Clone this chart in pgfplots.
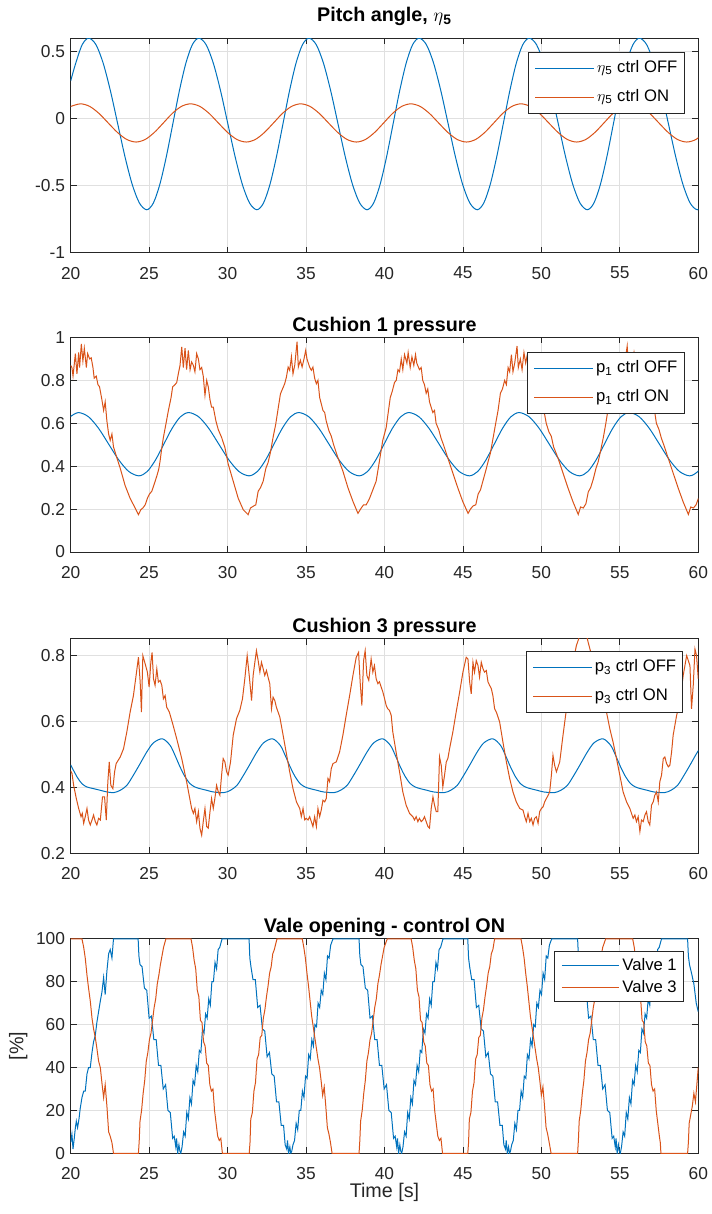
\documentclass[border=0pt]{standalone}
\usepackage{fontspec}
\setmainfont{Liberation Sans}
\usepackage{pgfplots}
\pgfplotsset{compat=1.18}
\definecolor{mblue}{rgb}{0,0.447,0.741}
\definecolor{morange}{rgb}{0.85,0.325,0.098}
\definecolor{axc}{rgb}{0.15,0.15,0.15}
\definecolor{gridc}{rgb}{0.88,0.88,0.88}
\pgfplotsset{
  mat/.style={
    scale only axis, width=470.7pt, height=160.9pt, anchor=south west,
    xmin=20, xmax=60, xtick={20,25,30,35,40,45,50,55,60},
    grid=major, major grid style={draw=gridc, line width=0.5pt},
    axis line style={draw=axc, line width=0.6pt},
    every tick/.style={draw=axc, line width=0.6pt},
    major tick length=4.5pt, tick align=inside,
    tick label style={font=\fontsize{13}{15}\selectfont, text=axc},
    /pgf/number format/assume math mode=true,
    xticklabel style={inner sep=0pt, anchor=north, yshift=-10.5pt},
    yticklabel style={xshift=-0.7pt},
    title style={font=\fontsize{14.8}{17}\selectfont\bfseries, at={(0.5,1)}, anchor=base},
    legend cell align=left,
    legend image code/.code={\draw[#1] (0pt,0pt) -- (44pt,0pt);},
    every axis plot/.append style={line width=0.75pt},
    legend style={at={(0.978,0.935)}, anchor=north east, draw=axc, line width=0.6pt, fill=white,
      font=\fontsize{12.5}{14}\selectfont, text=black, inner xsep=5pt, inner ysep=5.5pt,
      row sep=8.75pt, column sep=2pt, nodes={inner sep=0pt, text height=9.5pt, text depth=3.5pt}},
  }
}
\begin{document}
\begin{tikzpicture}
\useasboundingbox (0,0) rectangle (534pt,910.5pt);
% ---------------- Axis 1
\begin{axis}[mat, at={(53pt,721pt)}, ymin=-1, ymax=0.6, ytick={-1,-0.5,0,0.5},
  title={Pitch angle, $\eta$\textsubscript{5}}, title style={yshift=6.75pt}]
\addplot[draw=mblue, smooth] coordinates {
(20,0.28)(20.32,0.412)(20.735,0.551)(21.15,0.60)
(21.6125,0.551)(22.075,0.412)(22.5375,0.205)(23.0,-0.04)(23.4625,-0.285)(23.925,-0.492)(24.3875,-0.631)(24.85,-0.68)
(25.265,-0.631)(25.68,-0.492)(26.095,-0.285)(26.51,-0.04)(26.925,0.205)(27.34,0.412)(27.755,0.551)(28.17,0.60)
(28.6325,0.551)(29.095,0.412)(29.5575,0.205)(30.02,-0.04)(30.4825,-0.285)(30.945,-0.492)(31.4075,-0.631)(31.87,-0.68)
(32.285,-0.631)(32.70,-0.492)(33.115,-0.285)(33.53,-0.04)(33.945,0.205)(34.36,0.412)(34.775,0.551)(35.19,0.60)
(35.6525,0.551)(36.115,0.412)(36.5775,0.205)(37.04,-0.04)(37.5025,-0.285)(37.965,-0.492)(38.4275,-0.631)(38.89,-0.68)
(39.305,-0.631)(39.72,-0.492)(40.135,-0.285)(40.55,-0.04)(40.965,0.205)(41.38,0.412)(41.795,0.551)(42.21,0.60)
(42.6725,0.551)(43.135,0.412)(43.5975,0.205)(44.06,-0.04)(44.5225,-0.285)(44.985,-0.492)(45.4475,-0.631)(45.91,-0.68)
(46.325,-0.631)(46.74,-0.492)(47.155,-0.285)(47.57,-0.04)(47.985,0.205)(48.40,0.412)(48.815,0.551)(49.23,0.60)
(49.6925,0.551)(50.155,0.412)(50.6175,0.205)(51.08,-0.04)(51.5425,-0.285)(52.005,-0.492)(52.4675,-0.631)(52.93,-0.68)
(53.345,-0.631)(53.76,-0.492)(54.175,-0.285)(54.59,-0.04)(55.005,0.205)(55.42,0.412)(55.835,0.551)(56.25,0.60)
(56.7125,0.551)(57.175,0.412)(57.6375,0.205)(58.10,-0.04)(58.5625,-0.285)(59.025,-0.492)(59.4875,-0.631)(59.95,-0.68)(60.365,-0.631)
};
\addlegendentry{$\eta$\textsubscript{5} ctrl OFF}
\addplot[draw=morange, smooth] coordinates {
(20,0.09)(20.62,0.11)(21.21,0.091)(21.80,0.039)(22.395,-0.033)(22.987,-0.104)(23.578,-0.156)(24.17,-0.175)(24.748,-0.156)(25.327,-0.104)(25.905,-0.033)(26.483,0.039)(27.062,0.091)(27.64,0.11)
(28.23,0.091)(28.82,0.039)(29.415,-0.033)(30.007,-0.104)(30.598,-0.156)(31.19,-0.175)(31.768,-0.156)(32.347,-0.104)(32.925,-0.033)(33.503,0.039)(34.082,0.091)(34.66,0.11)
(35.25,0.091)(35.84,0.039)(36.435,-0.033)(37.027,-0.104)(37.618,-0.156)(38.21,-0.175)(38.788,-0.156)(39.367,-0.104)(39.945,-0.033)(40.523,0.039)(41.102,0.091)(41.68,0.11)
(42.27,0.091)(42.86,0.039)(43.455,-0.033)(44.047,-0.104)(44.638,-0.156)(45.23,-0.175)(45.808,-0.156)(46.387,-0.104)(46.965,-0.033)(47.543,0.039)(48.122,0.091)(48.70,0.11)
(49.29,0.091)(49.88,0.039)(50.475,-0.033)(51.067,-0.104)(51.658,-0.156)(52.25,-0.175)(52.828,-0.156)(53.407,-0.104)(53.985,-0.033)(54.563,0.039)(55.142,0.091)(55.72,0.11)
(56.31,0.091)(56.90,0.039)(57.495,-0.033)(58.087,-0.104)(58.678,-0.156)(59.27,-0.175)(59.848,-0.156)(60.427,-0.104)
};
\addlegendentry{$\eta$\textsubscript{5} ctrl ON}
\end{axis}
% ---------------- Axis 2
\begin{axis}[mat, at={(53pt,496.5pt)}, ymin=0, ymax=1, ytick={0,0.2,0.4,0.6,0.8,1},
  title={Cushion 1 pressure}, title style={yshift=-1.5pt}, legend style={at={(0.978,0.93)}}]
\addplot[draw=mblue, smooth] coordinates {
(20,0.632)(20.5,0.65)(21.142,0.630)(21.783,0.576)(22.425,0.5025)(23.067,0.429)(23.708,0.375)(24.35,0.355)(24.878,0.375)(25.407,0.429)(25.935,0.5025)(26.463,0.576)(26.992,0.630)(27.52,0.65)
(28.162,0.630)(28.803,0.576)(29.445,0.5025)(30.087,0.429)(30.728,0.375)(31.37,0.355)(31.898,0.375)(32.427,0.429)(32.955,0.5025)(33.483,0.576)(34.012,0.630)(34.54,0.65)
(35.182,0.630)(35.823,0.576)(36.465,0.5025)(37.107,0.429)(37.748,0.375)(38.39,0.355)(38.918,0.375)(39.447,0.429)(39.975,0.5025)(40.503,0.576)(41.032,0.630)(41.56,0.65)
(42.202,0.630)(42.843,0.576)(43.485,0.5025)(44.127,0.429)(44.768,0.375)(45.41,0.355)(45.938,0.375)(46.467,0.429)(46.995,0.5025)(47.523,0.576)(48.052,0.630)(48.58,0.65)
(49.222,0.630)(49.863,0.576)(50.505,0.5025)(51.147,0.429)(51.788,0.375)(52.43,0.355)(52.958,0.375)(53.487,0.429)(54.015,0.5025)(54.543,0.576)(55.072,0.630)(55.60,0.65)
(56.242,0.630)(56.883,0.576)(57.525,0.5025)(58.167,0.429)(58.808,0.375)(59.45,0.355)(59.978,0.375)(60.507,0.429)
};
\addlegendentry{p\textsubscript{1} ctrl OFF}
\addplot[draw=morange] coordinates {
(20.0,0.87)(20.08,0.86)(20.15,0.82)(20.30,0.925)(20.40,0.83)(20.51,0.93)(20.57,0.86)(20.68,0.97)(20.78,0.89)(20.87,0.95)(21.00,0.86)(21.08,0.925)(21.21,0.90)(21.31,0.905)(21.42,0.86)(21.50,0.81)(21.63,0.82)(21.74,0.78)(21.84,0.77)(21.99,0.71)(22.10,0.66)(22.20,0.70)(22.31,0.61)(22.42,0.55)(22.52,0.52)(22.63,0.55)(22.73,0.49)(22.94,0.44)(23.16,0.39)(23.47,0.31)(23.79,0.25)(24.11,0.205)(24.32,0.174)(24.47,0.197)(24.60,0.205)(24.75,0.22)(24.89,0.25)(25.02,0.27)(25.17,0.283)(25.32,0.315)(25.49,0.354)(25.61,0.385)(25.70,0.424)(25.81,0.487)(25.91,0.534)(26.08,0.60)(26.23,0.66)(26.40,0.72)(26.50,0.77)(26.65,0.78)(26.76,0.79)(26.86,0.83)(26.97,0.87)(27.08,0.956)(27.18,0.86)(27.29,0.95)(27.39,0.85)(27.50,0.94)(27.61,0.85)(27.71,0.886)(27.82,0.87)(27.92,0.84)(28.03,0.925)(28.14,0.90)(28.24,0.85)(28.35,0.86)(28.45,0.82)(28.56,0.73)(28.67,0.80)(28.77,0.77)(28.88,0.71)(28.98,0.675)(29.09,0.675)(29.26,0.61)(29.41,0.57)(29.62,0.534)(29.83,0.487)(30.04,0.41)(30.36,0.33)(30.68,0.25)(31.00,0.197)(31.31,0.174)
(31.46,0.205)(31.63,0.213)(31.80,0.22)(31.95,0.283)(32.10,0.30)(32.27,0.33)(32.44,0.39)(32.58,0.416)(32.73,0.463)(32.90,0.534)(33.07,0.596)(33.22,0.667)(33.37,0.737)(33.50,0.76)(33.64,0.784)(33.75,0.815)(33.86,0.862)(33.96,0.847)(34.07,0.91)(34.17,0.83)(34.28,0.87)(34.43,0.98)(34.51,0.862)(34.64,0.894)(34.75,0.862)(34.87,0.90)(34.98,0.94)(35.06,0.90)(35.23,0.862)(35.34,0.847)(35.44,0.862)(35.55,0.81)(35.66,0.784)(35.76,0.80)(35.87,0.72)(36.08,0.66)(36.19,0.65)(36.29,0.61)(36.46,0.565)(36.61,0.54)(36.76,0.50)(37.03,0.44)(37.35,0.377)(37.67,0.30)(37.99,0.236)
(38.31,0.18)(38.52,0.205)(38.67,0.22)(38.84,0.22)(39.05,0.25)(39.26,0.29)(39.47,0.33)(39.68,0.424)(39.89,0.52)(40.11,0.58)(40.22,0.64)(40.37,0.72)(40.50,0.75)(40.64,0.79)(40.75,0.80)(40.86,0.85)(40.96,0.84)(41.07,0.90)(41.17,0.85)(41.28,0.92)(41.43,0.88)(41.51,0.93)(41.64,0.86)(41.75,0.91)(41.87,0.87)(41.98,0.92)(42.06,0.88)(42.23,0.85)(42.34,0.86)(42.44,0.80)(42.55,0.78)(42.66,0.74)(42.76,0.76)(42.87,0.70)(43.08,0.65)(43.19,0.66)(43.29,0.60)(43.46,0.57)(43.61,0.53)(43.76,0.50)(44.03,0.44)(44.35,0.37)(44.67,0.30)(44.99,0.235)
(45.33,0.18)(45.48,0.20)(45.65,0.215)(45.82,0.22)(45.97,0.27)(46.12,0.29)(46.29,0.335)(46.46,0.38)(46.60,0.42)(46.75,0.46)(46.92,0.53)(47.09,0.60)(47.24,0.66)(47.39,0.74)(47.52,0.76)(47.66,0.80)(47.77,0.78)(47.88,0.86)(47.98,0.84)(48.09,0.92)(48.19,0.84)(48.30,0.88)(48.45,0.96)(48.53,0.86)(48.66,0.90)(48.77,0.85)(48.89,0.93)(49.00,0.88)(49.08,0.91)(49.25,0.84)(49.36,0.85)(49.46,0.80)(49.57,0.82)(49.68,0.76)(49.78,0.78)(49.89,0.71)(50.10,0.66)(50.21,0.64)(50.31,0.60)(50.48,0.56)(50.63,0.54)(50.78,0.49)(51.05,0.44)(51.37,0.37)(51.69,0.30)(52.01,0.235)
(52.35,0.175)(52.50,0.21)(52.67,0.205)(52.84,0.225)(52.99,0.28)(53.14,0.30)(53.31,0.34)(53.48,0.39)(53.62,0.42)(53.77,0.47)(53.94,0.53)(54.11,0.60)(54.26,0.67)(54.41,0.73)(54.54,0.77)(54.68,0.78)(54.79,0.82)(54.90,0.87)(55.00,0.84)(55.11,0.90)(55.21,0.84)(55.32,0.88)(55.47,0.96)(55.55,0.87)(55.68,0.90)(55.79,0.86)(55.91,0.93)(56.02,0.89)(56.10,0.90)(56.27,0.86)(56.38,0.84)(56.48,0.85)(56.59,0.80)(56.70,0.78)(56.80,0.79)(56.91,0.72)(57.12,0.66)(57.23,0.65)(57.33,0.60)(57.50,0.57)(57.65,0.53)(57.80,0.50)(58.07,0.44)(58.39,0.37)(58.71,0.30)(59.03,0.235)
(59.37,0.175)(59.52,0.21)(59.69,0.205)(59.86,0.22)(60.01,0.25)
};
\addlegendentry{p\textsubscript{1} ctrl ON}
\end{axis}
% ---------------- Axis 3
\begin{axis}[mat, at={(53pt,270.5pt)}, ymin=0.2, ymax=0.85, ytick={0.2,0.4,0.6,0.8},
  title={Cushion 3 pressure}, title style={yshift=-1.5pt}, legend style={at={(0.976,0.942)}}]
\addplot[draw=mblue, smooth] coordinates {
(20,0.468)(20.40,0.432)(20.72,0.411)(21.04,0.401)(21.46,0.396)(21.89,0.391)(22.31,0.386)(22.75,0.384)
(23.16,0.391)(23.58,0.406)(24.0,0.437)(24.43,0.472)(24.85,0.507)(25.28,0.535)(25.85,0.547)(26.34,0.527)(26.65,0.497)(26.97,0.462)(27.29,0.432)(27.61,0.411)(27.92,0.401)(28.24,0.396)(28.67,0.391)(29.09,0.386)(29.77,0.384)
(30.18,0.391)(30.60,0.406)(31.02,0.437)(31.45,0.472)(31.87,0.507)(32.30,0.535)(32.87,0.547)(33.36,0.527)(33.67,0.497)(33.99,0.462)(34.31,0.432)(34.63,0.411)(34.94,0.401)(35.26,0.396)(35.69,0.391)(36.11,0.386)(36.79,0.384)
(37.20,0.391)(37.62,0.406)(38.04,0.437)(38.47,0.472)(38.89,0.507)(39.32,0.535)(39.89,0.547)(40.38,0.527)(40.69,0.497)(41.01,0.462)(41.33,0.432)(41.65,0.411)(41.96,0.401)(42.28,0.396)(42.71,0.391)(43.13,0.386)(43.81,0.384)
(44.22,0.391)(44.64,0.406)(45.06,0.437)(45.49,0.472)(45.91,0.507)(46.34,0.535)(46.91,0.547)(47.40,0.527)(47.71,0.497)(48.03,0.462)(48.35,0.432)(48.67,0.411)(48.98,0.401)(49.30,0.396)(49.73,0.391)(50.15,0.386)(50.83,0.384)
(51.24,0.391)(51.66,0.406)(52.08,0.437)(52.51,0.472)(52.93,0.507)(53.36,0.535)(53.93,0.547)(54.42,0.527)(54.73,0.497)(55.05,0.462)(55.37,0.432)(55.69,0.411)(56.00,0.401)(56.32,0.396)(56.75,0.391)(57.17,0.386)(57.85,0.384)
(58.26,0.391)(58.68,0.406)(59.10,0.437)(59.53,0.472)(59.95,0.507)(60.38,0.535)
};
\addlegendentry{p\textsubscript{3} ctrl OFF}
\addplot[draw=morange] coordinates {
(20.0,0.45)(20.085,0.442)(20.19,0.406)(20.36,0.366)(20.51,0.336)(20.66,0.311)(20.74,0.321)(20.83,0.291)(20.93,0.311)(21.04,0.336)(21.14,0.301)(21.25,0.286)(21.36,0.301)(21.46,0.316)(21.57,0.296)(21.67,0.286)(21.78,0.306)(21.89,0.301)(22.03,0.371)(22.16,0.371)(22.27,0.301)(22.37,0.417)(22.46,0.477)(22.56,0.406)(22.69,0.396)(22.80,0.447)(22.90,0.472)(23.16,0.492)(23.37,0.517)(23.58,0.568)(23.79,0.628)(24.00,0.678)(24.17,0.739)(24.32,0.794)(24.43,0.719)(24.51,0.628)(24.60,0.799)(24.75,0.774)(24.89,0.749)(25.0,0.704)(25.11,0.779)(25.19,0.809)(25.28,0.729)(25.38,0.709)(25.49,0.759)(25.59,0.719)(25.70,0.724)(25.81,0.709)(25.91,0.668)(26.02,0.678)(26.12,0.643)(26.29,0.628)(26.50,0.593)(26.76,0.547)(27.08,0.487)(27.39,0.417)(27.71,0.336)(27.82,0.321)(27.92,0.336)(28.03,0.296)(28.14,0.326)(28.24,0.276)(28.35,0.255)(28.45,0.296)(28.56,0.336)(28.67,0.281)(28.77,0.276)(28.88,0.326)(28.98,0.366)(29.09,0.336)(29.19,0.366)(29.30,0.406)(29.41,0.386)(29.51,0.376)(29.62,0.437)(29.72,0.487)(29.83,0.477)(29.94,0.447)(30.04,0.437)(30.19,0.477)(30.36,0.558)(30.57,0.608)(30.78,0.633)(30.95,0.668)(31.10,0.729)(31.25,0.799)(31.38,0.739)(31.53,0.663)(31.63,0.739)(31.74,0.779)(31.84,0.814)(31.95,0.784)(32.06,0.749)(32.16,0.779)(32.27,0.759)(32.37,0.739)(32.48,0.754)(32.58,0.734)(32.69,0.714)(32.80,0.638)(32.90,0.673)(33.01,0.663)(33.11,0.643)(33.33,0.613)(33.54,0.558)(33.75,0.502)(33.96,0.447)(34.17,0.396)(34.39,0.356)(34.60,0.336)(34.70,0.311)(34.81,0.336)(34.92,0.301)(35.02,0.306)(35.13,0.301)(35.23,0.311)(35.34,0.296)(35.44,0.281)(35.55,0.311)(35.66,0.281)(35.76,0.336)(35.87,0.311)(35.97,0.331)(36.08,0.361)(36.19,0.356)(36.29,0.366)(36.40,0.427)(36.50,0.417)(36.61,0.457)(36.72,0.472)(36.93,0.477)(37.14,0.507)(37.35,0.558)(37.56,0.618)(37.78,0.678)(37.99,0.739)(38.20,0.794)(38.35,0.809)(38.45,0.719)(38.56,0.648)(38.67,0.784)(38.77,0.814)(38.88,0.739)(39.0,0.724)(39.15,0.789)(39.26,0.749)(39.36,0.769)(39.47,0.729)(39.58,0.714)(39.68,0.72)(39.79,0.704)(39.89,0.69)(40.0,0.67)(40.11,0.648)(40.21,0.638)(40.32,0.633)(40.43,0.618)(40.53,0.568)(40.74,0.507)(40.96,0.447)(41.17,0.386)(41.38,0.346)(41.60,0.321)(41.81,0.311)(41.91,0.301)(42.02,0.311)(42.13,0.296)(42.23,0.306)(42.34,0.296)(42.45,0.301)(42.55,0.311)(42.66,0.296)(42.77,0.281)(42.87,0.276)(42.98,0.336)(43.09,0.371)(43.19,0.346)(43.30,0.326)(43.40,0.326)(43.51,0.492)(43.62,0.466)(43.72,0.401)(43.83,0.437)(43.94,0.477)(44.04,0.487)(44.15,0.517)(44.36,0.568)(44.57,0.628)(44.79,0.688)(45.0,0.749)(45.21,0.794)(45.32,0.789)(45.43,0.719)(45.53,0.683)(45.64,0.779)(45.74,0.749)(45.85,0.784)(45.96,0.769)(46.06,0.734)(46.17,0.779)(46.28,0.759)(46.38,0.749)(46.49,0.754)(46.60,0.719)(46.70,0.709)(46.81,0.699)(46.91,0.678)(47.02,0.638)(47.13,0.628)(47.34,0.598)(47.55,0.537)(47.77,0.477)(47.98,0.427)(48.19,0.386)(48.40,0.356)(48.62,0.336)(48.83,0.331)(48.94,0.311)(49.04,0.296)(49.15,0.321)(49.26,0.296)(49.36,0.306)(49.47,0.286)(49.57,0.306)(49.68,0.311)(49.79,0.291)(49.89,0.326)(50.0,0.336)(50.11,0.341)(50.21,0.356)(50.32,0.366)(50.43,0.376)(50.53,0.386)(50.64,0.437)(50.74,0.497)(50.85,0.466)(50.96,0.447)(51.17,0.477)(51.38,0.558)(51.60,0.638)(51.81,0.719)(52.02,0.779)(52.23,0.829)(52.45,0.86)(52.66,0.855)(52.83,0.87)(52.98,0.84)(53.2,0.80)(53.45,0.76)(53.7,0.72)(53.95,0.67)(54.15,0.628)(54.36,0.578)(54.57,0.537)(54.79,0.487)(55.0,0.437)(55.21,0.386)(55.43,0.356)(55.64,0.336)(55.85,0.306)(55.96,0.316)(56.06,0.296)(56.17,0.311)(56.28,0.266)(56.38,0.301)(56.49,0.296)(56.60,0.316)(56.70,0.326)(56.81,0.296)(56.91,0.286)(57.02,0.346)(57.13,0.356)(57.23,0.376)(57.34,0.386)(57.45,0.356)(57.55,0.417)(57.66,0.437)(57.77,0.487)(57.87,0.492)(57.98,0.472)(58.09,0.462)(58.19,0.467)(58.30,0.507)(58.40,0.558)(58.62,0.618)(58.83,0.658)(59.04,0.739)(59.26,0.799)(59.47,0.769)(59.57,0.638)(59.68,0.709)(59.79,0.819)(59.89,0.799)(60.0,0.729)
};
\addlegendentry{p\textsubscript{3} ctrl ON}
\end{axis}
% ---------------- Axis 4
\begin{axis}[mat, at={(53pt,45.5pt)}, ymin=0, ymax=100, ytick={0,20,40,60,80,100},
  title={Vale opening - control ON}, title style={yshift=-1.3pt},
  xlabel={Time [s]}, ylabel={[\%]},
  every axis x label/.style={at={(axis description cs:0.5,0)}, anchor=base, inner sep=0pt, yshift=-33pt, font=\fontsize{14.8}{17}\selectfont, text=axc},
  every axis y label/.style={at={(axis description cs:-0.0835,0.5)}, rotate=90, anchor=center, inner sep=0pt, font=\fontsize{14.8}{17}\selectfont, text=axc},
  legend style={at={(0.977,0.941)}, inner ysep=4.5pt, row sep=4.5pt, nodes={inner sep=0pt, text height=9.5pt, text depth=2.5pt}},
  legend image code/.code={\draw[#1] (0pt,0pt) -- (43pt,0pt);}]
\addplot[draw=mblue] coordinates {
(20.0,5)(20.08,9)(20.15,2)(20.23,7)(20.30,12)(20.36,15)(20.44,12)(20.53,16)(20.61,21)(20.72,26)(20.83,29)(20.93,29)(21.04,37)(21.14,40)(21.25,40)(21.36,47)(21.46,52)(21.57,55)(21.67,61)(21.78,66)(21.89,71)(21.99,75)(22.10,82)(22.20,74)(22.31,85)(22.42,93)(22.52,95)(22.63,91)(22.73,100)
(24.30,100)(24.35,92)(24.42,88)(24.55,87)(24.70,77)(24.85,76)(25.00,63)(25.15,64)(25.30,53)(25.45,53)(25.60,41)(25.75,41)(25.90,30)(26.05,32)(26.20,20)(26.35,19)(26.50,7)(26.60,8)(26.70,3)(26.75,7)(26.82,0)(26.90,4)(26.96,1)(27.02,0)(27.10,3)(27.20,10)(27.30,8)(27.40,19)(27.50,16)(27.60,26)(27.70,23)(27.80,34)(27.90,32)(28.00,41)(28.10,38)(28.20,48)(28.30,47)(28.40,58)(28.50,56)(28.60,65)(28.70,63)(28.80,72)(28.90,69)(29.00,80)(29.10,80)(29.20,89)(29.30,86)(29.40,95)(29.50,96)(29.65,100)
(31.37,100)(31.42,91)(31.49,87)(31.62,81)(31.77,81)(31.92,68)(32.07,69)(32.22,58)(32.37,57)(32.52,45)(32.67,47)(32.82,37)(32.97,36)(33.12,24)(33.27,24)(33.42,13)(33.57,13)(33.67,4)(33.77,2)(33.82,6)(33.89,0)(33.97,3)(34.03,0)(34.09,1)(34.17,4)(34.27,6)(34.37,14)(34.47,11)(34.57,20)(34.67,20)(34.77,29)(34.87,26)(34.97,36)(35.07,35)(35.17,46)(35.27,44)(35.37,53)(35.47,50)(35.57,60)(35.67,59)(35.77,70)(35.87,68)(35.97,76)(36.07,74)(36.17,84)(36.27,81)(36.37,92)(36.47,91)(36.57,97)(36.72,100)
(38.38,100)(38.43,92)(38.50,88)(38.63,87)(38.78,77)(38.93,76)(39.08,63)(39.23,64)(39.38,53)(39.53,53)(39.68,41)(39.83,41)(39.98,30)(40.13,32)(40.28,20)(40.43,19)(40.58,7)(40.68,8)(40.78,3)(40.83,7)(40.90,0)(40.98,4)(41.04,1)(41.10,0)(41.18,3)(41.28,10)(41.38,8)(41.48,19)(41.58,16)(41.68,26)(41.78,23)(41.88,34)(41.98,32)(42.08,41)(42.18,38)(42.28,48)(42.38,47)(42.48,58)(42.58,56)(42.68,65)(42.78,63)(42.88,72)(42.98,69)(43.08,80)(43.18,80)(43.28,89)(43.38,86)(43.48,95)(43.58,96)(43.73,100)
(45.31,100)(45.36,91)(45.43,87)(45.56,81)(45.71,81)(45.86,68)(46.01,69)(46.16,58)(46.31,57)(46.46,45)(46.61,47)(46.76,37)(46.91,36)(47.06,24)(47.21,24)(47.36,13)(47.51,13)(47.61,4)(47.71,2)(47.76,6)(47.83,0)(47.91,3)(47.97,0)(48.03,1)(48.11,4)(48.21,6)(48.31,14)(48.41,11)(48.51,20)(48.61,20)(48.71,29)(48.81,26)(48.91,36)(49.01,35)(49.11,46)(49.21,44)(49.31,53)(49.41,50)(49.51,60)(49.61,59)(49.71,70)(49.81,68)(49.91,76)(50.01,74)(50.11,84)(50.21,81)(50.31,92)(50.41,91)(50.51,97)(50.66,100)
(52.31,100)(52.36,92)(52.43,88)(52.56,87)(52.71,77)(52.86,76)(53.01,63)(53.16,64)(53.31,53)(53.46,53)(53.61,41)(53.76,41)(53.91,30)(54.06,32)(54.21,20)(54.36,19)(54.51,7)(54.61,8)(54.71,3)(54.76,7)(54.83,0)(54.91,4)(54.97,1)(55.03,0)(55.11,3)(55.21,10)(55.31,8)(55.41,19)(55.51,16)(55.61,26)(55.71,23)(55.81,34)(55.91,32)(56.01,41)(56.11,38)(56.21,48)(56.31,47)(56.41,58)(56.51,56)(56.61,65)(56.71,63)(56.81,72)(56.91,69)(57.01,80)(57.11,80)(57.21,89)(57.31,86)(57.41,95)(57.51,96)(57.66,100)
(59.32,100)(59.37,92)(59.44,88)(59.57,84)(59.72,79)(59.87,70)(60.0,66)
};
\addlegendentry{Valve 1}
\addplot[draw=morange] coordinates {
(20.00,100)(20.72,100)(20.83,96)(20.93,91)(21.04,83)(21.14,77)(21.25,71)(21.36,63)(21.46,58)(21.57,54)(21.67,49)(21.78,43)(21.89,40)(21.99,33)(22.10,26)(22.20,32)(22.31,22)(22.42,10)(22.52,8)(22.63,5)(22.73,0)(24.32,0)
(24.37,6)(24.42,15)(24.52,20)(24.62,28)(24.72,34)(24.82,43)(24.92,47)(25.02,53)(25.12,56)(25.22,62)(25.32,68)(25.42,72)(25.52,79)(25.62,83)(25.72,88)(25.82,92)(25.92,96)(26.07,100)(27.67,100)
(27.77,96)(27.87,90)(27.97,86)(28.07,76)(28.17,73)(28.27,62)(28.37,61)(28.47,52)(28.57,50)(28.67,42)(28.77,41)(28.87,32)(28.97,29)(29.07,30)(29.17,20)(29.27,14)(29.37,8)(29.47,6)(29.57,7)(29.67,0)(31.38,0)
(31.43,5)(31.48,16)(31.58,19)(31.68,29)(31.78,33)(31.88,44)(31.98,46)(32.08,54)(32.18,55)(32.28,63)(32.38,67)(32.48,73)(32.58,78)(32.68,84)(32.78,87)(32.88,93)(32.98,95)(33.15,100)(34.76,100)
(34.86,96)(34.96,91)(35.06,84)(35.16,78)(35.26,71)(35.36,64)(35.46,59)(35.56,54)(35.66,49)(35.76,44)(35.86,40)(35.96,34)(36.06,27)(36.16,31)(36.26,22)(36.36,12)(36.46,9)(36.56,5)(36.66,0)(38.38,0)
(38.43,6)(38.48,15)(38.58,20)(38.68,28)(38.78,34)(38.88,43)(38.98,47)(39.08,53)(39.18,56)(39.28,62)(39.38,68)(39.48,72)(39.58,79)(39.68,83)(39.78,88)(39.88,92)(39.98,96)(40.18,100)(41.70,100)
(41.80,96)(41.90,90)(42.00,86)(42.10,76)(42.20,73)(42.30,62)(42.40,61)(42.50,52)(42.60,50)(42.70,42)(42.80,41)(42.90,32)(43.00,29)(43.10,30)(43.20,20)(43.30,14)(43.40,8)(43.50,6)(43.60,7)(43.70,0)(45.31,0)
(45.36,5)(45.41,16)(45.51,19)(45.61,29)(45.71,33)(45.81,44)(45.91,46)(46.01,54)(46.11,55)(46.21,63)(46.31,67)(46.41,73)(46.51,78)(46.61,84)(46.71,87)(46.81,93)(46.91,95)(47.02,100)(48.70,100)
(48.80,96)(48.90,91)(49.00,84)(49.10,78)(49.20,71)(49.30,64)(49.40,59)(49.50,54)(49.60,49)(49.70,44)(49.80,40)(49.90,34)(50.00,27)(50.10,31)(50.20,22)(50.30,12)(50.40,9)(50.50,5)(50.62,0)(52.31,0)
(52.36,6)(52.41,15)(52.51,20)(52.61,28)(52.71,34)(52.81,43)(52.91,47)(53.01,53)(53.11,56)(53.21,62)(53.31,68)(53.41,72)(53.51,79)(53.61,83)(53.71,88)(53.81,92)(53.91,96)(54.10,100)(55.82,100)
(55.92,96)(56.02,90)(56.12,86)(56.22,76)(56.32,73)(56.42,62)(56.52,61)(56.62,52)(56.72,50)(56.82,42)(56.92,41)(57.02,32)(57.12,29)(57.22,30)(57.32,20)(57.42,14)(57.52,8)(57.58,5)(57.62,0)(59.32,0)
(59.37,5)(59.42,14)(59.52,18)(59.62,22)(59.72,28)(59.82,24)(59.92,33)(60.0,40)
};
\addlegendentry{Valve 3}
\end{axis}
\end{tikzpicture}
\end{document}
